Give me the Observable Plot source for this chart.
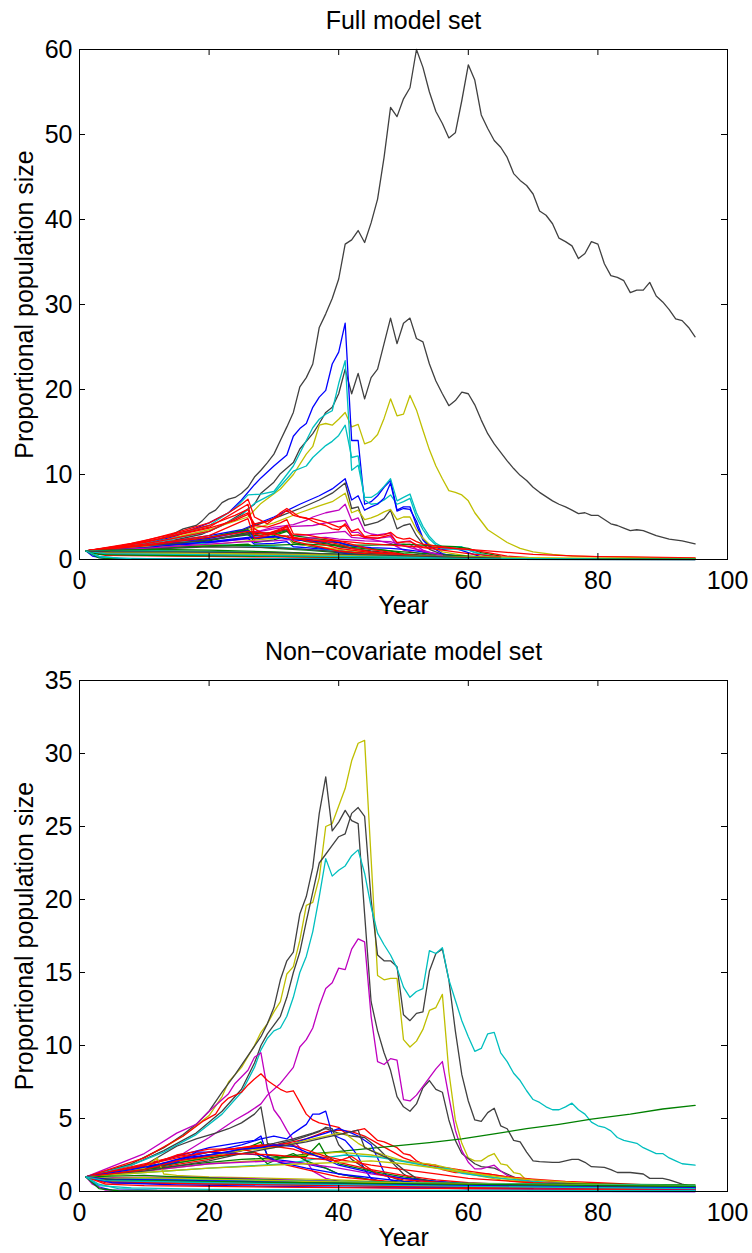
<!DOCTYPE html>
<html><head><meta charset="utf-8">
<script src="https://cdn.jsdelivr.net/npm/d3@7"></script>
<script src="https://cdn.jsdelivr.net/npm/@observablehq/plot@0.6"></script>
<style>html,body{margin:0;padding:0;background:#fff;} svg{display:block;}</style>
</head><body><div id="chart"></div>
<script>
// ---------- labels & ticks ----------
const fullTitle = "Full model set";
const nonCovTitle = "Non\u2212covariate model set";
const xLabel = "Year";
const yLabel = "Proportional population size";
const xTicks = [0, 20, 40, 60, 80, 100];
const fullYTicks = [0, 10, 20, 30, 40, 50, 60];
const nonCovYTicks = [0, 5, 10, 15, 20, 25, 30, 35];

// MATLAB default colour order: b g r c m y k
const colorCodes = {b:"#0000ff", g:"#008000", r:"#ff0000", c:"#00bfbf", m:"#bf00bf", y:"#bfbf00", k:"#404040"};

// ---------- Full model set: trajectories as [year, value, year, value, ...] ----------
const fullColors = ["k","k","y","b","c","c","b","k","y","m","m","m","g","g","g","g","b","b","c","k","y","b","k","g","m","r","r","r","r","r","r","r"];
const fullSeries = [
 [1,1,6,1.3,10,1.8,14,2.8,16,3.6,18,4,19,4.6,20,5.4,21,5.8,22,6.7,23,7.1,24,7.3,25,7.8,26,8.5,27,9.7,28,10.5,29,11.4,30,12.4,31,14,32,15.6,33,17.3,34,20.3,35,21.4,36,23,37,27.3,38,28.9,39,30.7,40,33,41,37.1,42,37.6,43,38.7,44,37.3,45,39.6,46,42.4,47,47.3,48,53.2,49,52.1,50,54.2,51,55.5,52,60,53,57.9,54,55,55,52.7,56,51.3,57,49.6,58,50.2,59,54,60,58.2,61,56.4,62,52.3,63,50.7,64,49.3,65,48.5,66,47.3,67,45.4,68,44.6,69,44,70,43,71,41,72,40.5,73,39.5,74,37.8,75,37.4,76,36.9,77,35.4,78,36,79,37.4,80,37.1,81,34.8,82,33.4,83,33.2,84,32.8,85,31.4,86,31.7,87,31.7,88,32.6,89,31,90,30.3,91,29.4,92,28.3,93,28.1,94,27.3,95,26.2],
 [1,1,6,1.1,13,2,19,3,22,4,25,5.4,27,6.5,28,7.8,30,9.1,31,10.1,33,11.4,34,13,36,14.8,37,16,38,17.3,39,17.9,40,19.5,41,22.4,42,19.5,43,21.9,44,18.9,45,21.4,46,22.4,47,25.4,48,28.4,49,25.4,50,27.8,51,28.4,52,26,53,25.6,54,23,55,21,56,19.5,57,18.1,58,18.7,59,19.7,60,19.5,61,18.2,62,16.4,63,14.8,64,13.6,65,12.6,66,11.6,67,10.7,68,9.9,69,9.3,70,8.5,71,7.9,72,7.4,73,6.9,74,6.5,75,6.2,76,5.8,77,5.4,78,5.5,79,5.2,80,5.2,81,4.7,82,4.2,83,4,84,3.7,85,3.4,86,3.5,87,3.4,88,3.1,89,2.8,91,2.4,93,2.2,95,1.85],
 [1,1,10,1.8,20,3.5,26,5,28,6.6,31,8.3,33,10,35,12.4,36,13.3,37,15.8,38,16,39,15.8,40,16.5,41,17.3,42,15.6,43,15.9,44,13.6,45,13.9,46,14.7,47,16.6,48,18.9,49,16.9,50,17.1,51,19.3,52,17.6,53,15.2,54,12.9,55,11,56,9.5,57,8.1,58,7.9,59,7.6,60,6.9,61,5.5,62,4.5,63,3.5,64,3,66,2,68,1.3,70,0.9,73,0.6,76,0.4,85,0.25,95,0.15],
 [1,1,10,1.8,15,2.8,20,4.3,23,5.5,25,7,27,8.8,28,9.6,30,11,32,12.3,33,14.5,34,15.4,35,16,36,17.9,37,19.1,38,19.9,39,23,40,24.4,41,27.8,42,14,43,14,44,6.5,45,6.8,46,7.5,47,8.5,48,9.3,49,5.8,50,6.2,51,6.2,52,4,53,2.3,54,1.5,56,1.2,58,1.3,60,0.8,62,0.3,65,0.1],
 [1,1,10,1.9,20,4,24,6,26,7.6,28,7.7,30,8,31,9,33,11,35,14,36,15.5,37,16.5,38,17.1,39,17.5,40,20.7,41,23.4,42,10.5,43,11.1,44,7.3,45,7.3,46,7.8,47,8.6,48,9.5,49,6.9,50,7.3,51,7.7,52,5.5,53,3.9,54,2.7,55,1.9,56,1.5,59,1.5,61,0.8,64,0.3,70,0.1],
 [1,1,10,1.7,20,3.3,25,5.2,27,6.6,30,7.8,32,9.5,33,10.4,35,11,36,12,38,13.4,39,13.9,40,14.6,41,15.8,42,12,43,12.2,44,7,45,6.5,46,6.6,47,7,48,7.6,49,6.5,50,6.8,51,7.2,52,5,53,3.5,54,2.4,55,1.7,56,1.3,58,1.2,60,1.1,62,0.6,65,0.2],
 [1,1,10,1.6,20,2.8,25,3.5,30,5,34,6.5,37,7.5,39,8.3,41,9.5,42,7,43,7.5,44,5.8,45,6.2,46,6.5,47,7.2,48,9,49,5.7,50,6,51,5.9,52,4.5,53,2.5,54,1.6,56,0.7,58,0.3,62,0.1],
 [1,1,10,1.5,20,2.6,25,3.4,30,4.8,34,6,37,7,39,7.8,41,9,42,6,43,6.2,44,4,45,4.2,46,4.4,47,4.8,48,5.8,49,3.6,50,4,51,4.2,52,2.8,53,1.8,54,1.2,56,0.6,60,0.3,65,0.1],
 [1,1,10,1.5,20,2.5,25,3.2,30,4.3,34,5.5,37,6.3,39,6.8,41,7.8,42,5.5,43,5.8,44,4.7,45,4.9,46,5.2,47,5.6,48,5.9,49,4.7,50,5,51,5,52,3.5,53,2.5,54,1.8,56,0.9,60,0.4,65,0.15],
 [1,1,10,1.4,20,2.3,25,3,28,3.4,30,3.8,33,4.1,35,4.6,36,5,38,5.5,40,5.8,41,6.5,42,4.6,43,4.9,44,3.3,45,3,46,2.9,47,3,48,3.1,49,1.9,50,2.1,51,2.2,52,1.6,53,1.1,55,0.6,58,0.3,62,0.1],
 [1,1,10,1.5,20,2.3,25,2.9,30,3.6,33,3.9,36,4,38,4.3,40,4.5,41,4.6,42,3.2,43,3.2,44,2.6,46,2.5,48,2.7,49,1.6,51,1.8,52,1.2,54,0.6,56,0.2],
 [1,1,10,1.3,20,2,30,2.7,35,2.9,38,3.1,41,3.3,42,2.6,45,2.4,48,1.9,50,1.1,53,0.6,56,0.3],
 [1,1,10,1.6,20,2.6,26,3.5,27,2.8,30,3,32,3.4,33,2.5,35,2.1,40,1.7,45,1.7,50,1.8,55,1.6,58,1.5,60,1.3,62,0.8,65,0.4],
 [1,1,10,1.4,20,2.2,26,3.2,27,2,30,2.3,32,2.8,33,2,36,1.5,40,1,45,0.7,50,0.5,55,0.3],
 [1,1,5,1.2,10,1.3,15,1.5,20,1.6,26,1.8,27,1.5,30,1.3,35,1.1,40,0.8,50,0.4,60,0.2],
 [1,1,10,1.5,20,2.3,26,2.9,27,2.4,30,2.8,32,3.3,33,2.8,35,2.6,38,2.3,40,2,42,1.6,45,1.3,48,1,50,0.7,55,0.4,60,0.2],
 [1,1,10,1.6,20,2.5,26,3.4,27,2.5,30,2.6,32,2.8,33,1.8,36,1.6,38,1.2,40,0.8,42,0.6,45,0.4,50,0.2],
 [1,1,10,1.4,20,2,26,2.5,27,1.8,30,1.9,32,2.1,33,1.5,35,1.4,40,1,45,0.6,50,0.35,55,0.2],
 [1,1,10,1.7,13,2.3,15,2.2,20,1.8,25,1.6,30,1.5,35,1.2,40,1,45,0.6,50,0.4,55,0.2],
 [1,1,10,1.5,20,2.3,26,3,30,3.2,32,3.5,33,2.4,35,2.2,38,2,40,1.5,45,1,50,0.6,55,0.3],
 [1,1,10,1.5,20,1.7,26,2.2,30,2.5,32,2.8,33,1.8,36,1.6,40,1.2,45,0.8,50,0.5,55,0.3],
 [1,1,10,1.4,20,2.1,26,2.6,30,2.7,33,2.3,36,2.2,40,2,42,1.6,45,1.4,48,1.3,50,1.2,53,0.9,56,0.6,60,0.3],
 [1,1,10,1.2,20,1.5,30,1.4,35,1.2,40,0.9,45,0.7,50,0.5,55,0.4,60,0.3,65,0.15],
 [1,1,10,1.3,20,1.6,30,1.7,35,1.8,40,1.6,45,1.2,50,0.9,55,0.6,60,0.4,65,0.2],
 [1,1,10,1.3,20,1.8,26,2.1,30,2.2,35,2.5,38,2.6,40,2.4,44,2.2,48,2.1,50,1.6,53,1,56,0.5],
 [1,1,5,1.4,10,2.2,15,3.2,20,4.3,23,5.5,25,6.5,26,7.1,27,5,28,4.6,29,4.2,30,4.8,31,5.5,32,6,33,5.5,34,5,35,4.9,36,4.5,37,4.2,38,4,39,3.6,40,3.5,41,4.2,42,3.3,43,3.6,44,2.7,45,2.8,46,2.8,47,2.9,48,3.2,49,2.6,50,2.4,51,2.5,52,2.1,53,1.8,55,1.6,58,1.3,60,1.2,65,0.9,70,0.6,75,0.45,80,0.35,85,0.3,90,0.25,95,0.2],
 [1,1,10,2,20,3.8,26,6.5,27,3,28,2.8,30,3.3,32,3.6,33,2.6,35,2.2,38,1.7,40,1.3,45,0.8,50,0.5,55,0.3,60,0.2],
 [1,1,10,1.8,20,3.3,26,5.5,27,4.2,29,4.5,31,5.2,32,5.8,33,5.2,35,4.8,36,4.8,38,4.4,40,3.8,41,4,42,2.8,43,2.9,44,2.6,46,2.5,48,2.9,49,2,51,2.1,53,1.4,56,1.1,60,0.7,65,0.3,70,0.15],
 [1,1,10,1.7,20,2.8,26,4.8,27,2.5,29,2.8,31,3.4,32,3.9,33,2.2,35,1.8,40,1,45,0.6,50,0.4,55,0.25],
 [1,1,8,1.9,14,2.9,20,4,24,5.2,26,5.9,27,3.6,28,3.2,29,3,31,3.6,32,4,33,2.6,35,2.4,38,2.1,40,1.8,42,1.3,45,0.9,50,0.5,55,0.3,60,0.15],
 [1,1,8,1.8,14,2.7,20,3.7,24,4.6,26,5.3,27,4,29,3.8,31,4.3,32,4.7,33,3,35,2.9,37,2.6,40,2.2,45,1.2,50,0.6,55,0.3],
 [1,1,10,1.6,20,2.6,26,3.3,30,3,33,2.5,36,2.3,40,2.2,44,1.9,48,1.7,52,1.5,56,1.4,60,1.2,63,0.8,66,0.4,70,0.2]
];
const fullLowColors = ["b","g","r","c","m","y","k","b","g","r","c","y","g","c","k","g","c"];
const fullLowSeries = [
 [1,1,3,0.8,10,0.9,20,0.8,30,0.6,40,0.4,50,0.25,60,0.1,70,0.05],
 [1,1,5,1.1,12,1.2,20,1.1,30,0.9,40,0.6,50,0.35,60,0.15,70,0.05],
 [1,1,4,0.7,12,0.6,25,0.5,40,0.35,55,0.2,65,0.1,80,0.05],
 [1,1,3,0.4,6,0.15,15,0.05,40,0.02],
 [1,1,5,0.9,15,0.85,25,0.75,35,0.6,45,0.4,55,0.25,65,0.1],
 [1,1,6,0.8,15,0.7,25,0.6,40,0.45,55,0.3,70,0.15,95,0.05],
 [1,1,4,0.6,12,0.5,25,0.4,40,0.3,55,0.2,70,0.1],
 [1,1,2,0.4,4,0.1,95,0],
 [1,1,5,1,10,1.05,20,0.95,30,0.8,40,0.6,50,0.4,60,0.2,70,0.1,95,0.05],
 [1,1,4,0.5,15,0.4,30,0.3,50,0.2,70,0.1,95,0.05],
 [1,1,5,0.95,12,1,20,0.9,30,0.75,42,0.55,50,0.35,60,0.15,70,0.05],
 [1,1,5,0.85,15,0.8,30,0.65,45,0.5,60,0.3,75,0.15,95,0.1],
 [1,1,3,0.6,10,0.5,25,0.4,45,0.25,65,0.1,95,0.05],
 [1,1,4,0.7,15,0.6,30,0.45,45,0.3,60,0.15,80,0.05],
 [1,1,5,0.9,15,0.9,30,0.8,45,0.55,55,0.35,65,0.15],
 [1,1,3,0.2,6,0.05,95,0],
 [1,1,3,0.3,8,0.1,95,0.01]
];

// ---------- Non-covariate model set ----------
const nonCovColors = ["y","k","k","c","m","m","r","r","g","b","b","b","k","k","y","y","c","g","g","r","r","b","m","y","r","b","k","y","r"];
const nonCovSeries = [
 [1,1,8,1.9,13,3,16,3.8,18,4.5,20,5.2,22,6.5,23,7.5,25,8.5,27,10,28,10.9,29,11.5,30,12.3,31,13,32,14.9,33,15.4,34,17.2,35,19.6,36,19.8,37,21.5,38,25,39,25.2,40,26.4,41,27.6,42,29.5,43,30.7,44,30.9,45,22.8,46,14.8,47,14.5,48,14.6,49,14.6,50,10.4,51,9.9,52,10.3,53,11.1,54,12.4,55,12.6,56,13.5,57,8.2,58,4.9,59,3.3,60,2.3,61,2.1,62,2.1,63,2.4,64,2.6,65,1.9,66,1.8,67,1.3,68,1.2,69,0.75,72,0.5,80,0.35,95,0.25],
 [1,1,8,1.9,13,3,16,3.9,18,4.6,20,5.5,22,6.8,24,8,26,9.3,28,10.6,29,11.5,30,12.6,31,14.5,32,15.8,33,16.4,34,19,35,20.2,36,22.2,37,25.9,38,28.4,39,24.7,40,25.3,41,26.1,42,25.4,43,25.2,44,19,45,13,46,11,47,9.5,48,8.3,49,6.5,50,5.8,51,5.5,52,6,53,7.1,54,7.6,55,7,56,6.8,57,4.9,58,3.5,59,2.6,61,1.9,62,1.7,64,1.6,66,1.2,68,0.8,72,0.5,80,0.35,95,0.3],
 [1,1,8,1.8,13,2.8,18,4,22,5.5,25,7,27,8.8,28,10,29,10.8,30,11.4,31,12,32,13.3,33,15,34,16.4,35,18.5,36,20.5,37,22.5,38,23.1,39,23.7,40,24.3,41,24.5,42,25.9,43,26.3,44,25.7,45,20,46,16.2,47,15.8,48,15.8,49,15.4,50,12.1,51,11.7,52,12.2,53,12.3,54,15.1,55,16.3,56,16.6,57,14.5,58,11,59,8,60,6.2,61,4.9,62,4.8,63,5.4,64,5.7,65,4.5,66,4.3,67,3.5,68,3.4,69,2.7,70,2.1,71,2.05,73,2,74,2,76,2.2,77,2.2,78,2,79,1.7,81,1.65,82,1.5,83,1.3,85,1.3,87,1.2,88,0.9,90,0.9,91,0.8,93,0.5,95,0.3],
 [1,1,8,1.8,13,2.7,18,3.9,22,5.3,25,6.8,27,8.5,28,9.7,29,10.5,30,11,31,11.2,32,12,33,13.3,34,15,35,16.1,36,17.8,37,20.2,38,22.8,39,21.6,40,22,41,22.3,42,23,43,23.4,44,21.8,45,19.5,46,17.7,47,16.9,48,16.2,49,15.3,50,14,51,13.3,52,13.7,53,13.9,54,16.5,55,16.3,56,16.7,57,14.5,58,13.1,59,11.7,60,10.6,61,9.6,62,9.8,63,10.8,64,10.9,65,9.5,66,8.9,67,8.1,68,7.6,69,6.9,70,6.3,71,6.1,72,5.8,73,5.6,74,5.6,75,5.8,76,6.05,77,5.6,78,5.3,79,4.75,80,4.5,81,4.4,82,4.15,83,3.7,84,3.5,85,3.4,86,3.3,87,3,88,2.8,89,2.6,90,2.6,91,2.3,92,2.1,93,1.9,95,1.8],
 [1,1,10,1.7,16,2.6,20,3.7,22,4.3,24,4.9,26,5.4,28,6,29,6.6,31,7.4,33,8.5,34,9.9,35,10.4,36,11.2,37,12.7,38,13.9,39,14.3,40,15.3,41,15.2,42,16.6,43,17.3,44,17.1,45,12,46,8.9,47,8.7,48,9.1,49,9,50,6.3,51,6.2,52,6.6,53,7.2,54,7.8,55,8.4,56,8.9,57,6.5,58,4.2,59,2.8,60,2,61,1.55,62,1.55,64,1.8,65,1.4,66,1.1,68,0.8,72,0.5,80,0.3,95,0.2],
 [1,1,10,2.6,15,4,18,4.6,20,5.5,23,6.7,24,7.4,26,8.3,27,9.2,28,9.5,29,7,30,5.6,31,5,32,4.2,33,3.5,34,3,35,2.1,36,1.4,38,0.9,42,0.5,50,0.3,60,0.2],
 [1,1,10,2.3,16,3.8,19,4.8,21,5.3,22,6,23,6.4,25,6.8,26,7.3,27,7.7,28,8.06,29,7.6,30,7.3,31,7,32,6.8,33,6.9,34,6.1,35,5.3,36,4.9,37,4.7,38,4.6,39,4.5,40,4.4,41,4,42,4.1,43,4.2,44,4.3,45,3.9,46,3.5,47,3.4,49,3,50,2.6,51,2.5,52,2.1,53,1.9,55,1.8,56,1.5,58,1.3,59,1.3,61,1.2,63,1.2,66,1,70,0.85,75,0.7,80,0.6,85,0.5,90,0.4,95,0.3],
 [1,1,10,1.5,20,2.2,25,2.8,30,3.1,35,3.6,38,4.1,40,4.2,42,4.1,44,3.8,46,3.3,48,2.8,50,2.3,52,2,55,1.7,57,1.6,60,1.4,63,1.2,66,1,70,0.8,75,0.6,80,0.5,85,0.4,90,0.35,95,0.3],
 [1,1,5,1.3,10,1.7,15,2.1,20,2.5,25,2.8,28,3.4,29,2.5,31,2.35,35,2.55,39,2.7,46,3,54,3.35,59,3.6,64,3.95,69,4.3,74,4.6,79,4.95,85,5.3,90,5.65,95,5.9],
 [1,1,10,1.6,15,2.2,20,2.7,25,3.2,28,3.6,30,3.8,32,3.6,33,4,35,4.6,36,5.3,37,5.3,38,5.5,39,3.9,40,3.7,41,3.5,42,3,43,2.4,44,1.5,45,0.9,47,0.6,50,0.4,60,0.2],
 [1,1,10,1.8,15,2.4,20,3,24,3.3,27,3.5,28,3.8,29,2.4,30,2.2,32,2.1,35,1.9,38,1.6,40,1.2,45,0.8,50,0.5,60,0.3],
 [1,1,10,1.5,16,2.3,20,2.5,25,2.8,30,3.2,33,3.3,35,3.6,38,4,40,4.3,42,4,43,3.8,45,3.2,46,2.3,47,1.3,48,0.8,50,0.5,60,0.25],
 [1,1,10,1.8,15,3.1,18,3.6,21,4,23,4.3,25,4.7,27,5.3,28,5.8,29,3.3,30,3.1,31,3.3,33,3.5,35,3.8,37,4.1,38,4.4,39,4.3,40,3.2,42,2.2,44,1.6,46,1.2,48,1,50,0.7,55,0.45,60,0.3,70,0.2],
 [1,1,10,1.5,20,2.4,25,2.9,30,3.3,33,3.6,36,4,38,4.3,40,4,42,3.8,44,3.7,46,3,48,2.1,50,1.2,52,0.7,55,0.45],
 [1,1,10,1.6,20,2.4,25,2.8,30,3,33,3.3,36,3.6,38,3.8,40,4,41,3.95,43,3.3,45,2.8,47,2.5,50,2.1,52,2,55,1.8,58,1.5,60,1.3,65,0.9,70,0.6,75,0.45,80,0.35],
 [1,1,10,1.4,20,1.9,30,2.2,35,2.5,40,2.7,45,2.5,50,2.1,55,1.6,60,1.2,65,0.8,70,0.55,80,0.35,95,0.25],
 [1,1,10,1.3,20,1.6,32,1.9,36,2.2,41,2.5,46,2.35,52,1.9,54,1.7,57,1.55,59,1.25,64,0.95,70,0.7,80,0.45,95,0.3],
 [1,1,10,1.5,20,2,25,2.2,30,2.3,35,2.4,37,3.3,38,2.5,40,1.9,45,1.4,50,1,55,0.7,60,0.5,70,0.35,95,0.2],
 [1,1,10,1.6,20,2.3,27,2.7,29,1.9,31,2.3,33,2.6,35,2.1,38,1.6,40,1.2,45,0.8,50,0.5],
 [1,1,10,1.9,15,2.4,20,2.7,25,3,28,3.2,30,3.1,33,2.9,35,2.6,38,2.3,40,2,45,1.5,50,1.1,55,0.8,60,0.6,70,0.4,80,0.3,95,0.2],
 [1,1,10,1.7,15,2.5,20,2.9,25,2.9,27,2.7,29,2.3,32,1.8,35,1.5,40,1,50,0.6,60,0.35],
 [1,1,8,1.5,15,2,18,2.7,20,2.7,25,2.6,28,2.5,31,2,35,1.6,40,1.2,50,0.7,60,0.4],
 [1,1,10,1.4,20,1.9,30,2.1,35,1.9,40,1.6,45,1.2,50,0.9,55,0.6,60,0.4,70,0.25],
 [1,1,5,1.3,10,1.6,12,2.3,13,1.2,15,1.1,20,1,30,0.9,40,0.8,50,0.6,60,0.5,70,0.4,80,0.35,95,0.3],
 [1,1,8,1.6,15,2.3,20,2.7,25,3,28,3.1,30,3.2,32,3.3,34,3,36,2.7,38,2.4,40,2.2,45,1.8,50,1.5,55,1.2,60,0.9,70,0.6,95,0.3],
 [1,1,8,1.5,15,2.1,20,2.5,25,2.9,28,3,30,3.2,33,3.1,35,2.7,38,2.2,40,1.8,45,1.3,50,0.9,60,0.5,80,0.3],
 [1,1,10,1.4,20,2.1,25,2.6,30,3,35,3.4,38,3.7,40,3.9,43,4.2,44,3,46,2.6,48,2.2,50,1.5,52,0.9,55,0.6],
 [1,1,10,1.3,20,1.6,30,1.8,35,1.9,40,2,45,2.1,50,1.9,55,1.6,60,1.3,65,1,70,0.8,80,0.5,95,0.35],
 [1,1,10,1.5,15,2.1,20,2.4,25,2.6,30,2.5,35,2.3,40,2.1,42,2.4,44,1.8,46,1.2,50,0.8,60,0.5]
];
const nonCovLowColors = ["b","g","r","c","m","y","k","b","g","r","c","m","y","k","b","r","g","b","r","c","g","c"];
const nonCovLowSeries = [
 [1,1,3,0.9,10,0.85,20,0.8,30,0.7,40,0.6,55,0.5,70,0.4,95,0.3],
 [1,1,4,0.9,12,0.95,20,0.9,30,0.8,45,0.65,60,0.55,80,0.5,95,0.45],
 [1,1,5,0.8,15,0.7,30,0.55,50,0.4,70,0.3,95,0.2],
 [1,1,3,0.5,6,0.2,12,0.1,30,0.05,95,0.02],
 [1,1,5,0.95,15,1,25,0.9,35,0.75,50,0.55,65,0.4,80,0.3,95,0.25],
 [1,1,6,0.85,15,0.75,25,0.7,40,0.6,60,0.5,80,0.45,95,0.4],
 [1,1,4,0.7,10,0.6,20,0.5,40,0.4,60,0.3,95,0.2],
 [1,1,3,0.3,5,0.1,10,0.05,95,0],
 [1,1,5,1.05,10,1.1,15,1,25,0.85,35,0.7,50,0.5,65,0.35,80,0.25,95,0.2],
 [1,1,4,0.6,10,0.55,25,0.5,45,0.4,65,0.3,95,0.15],
 [1,1,5,0.9,15,0.85,30,0.75,50,0.6,70,0.5,95,0.4],
 [1,1,2,0.5,4,0.1,95,0],
 [1,1,5,0.9,10,0.95,20,0.85,35,0.7,55,0.55,75,0.45,95,0.35],
 [1,1,6,0.8,15,0.7,30,0.6,50,0.45,75,0.35,95,0.3],
 [1,1,4,0.85,12,0.8,25,0.7,40,0.55,60,0.4,80,0.3,95,0.25],
 [1,1,5,0.7,15,0.6,30,0.5,50,0.35,70,0.25,95,0.15],
 [1,1,3,0.8,10,0.75,25,0.65,45,0.55,70,0.45,95,0.35],
 [1,1,5,0.6,15,0.45,30,0.35,60,0.2,95,0.1],
 [1,1,4,0.5,10,0.4,30,0.3,60,0.2,95,0.1],
 [1,1,4,0.75,15,0.65,35,0.5,60,0.35,95,0.2],
 [1,1,3,0.2,6,0.05,95,0.02],
 [1,1,3,0.4,8,0.25,20,0.15,50,0.08,95,0.05]
];

// ---------- build rows ----------
function toRows(colorList, seriesList, start) {
  const rows = [];
  seriesList.forEach((s, i) => {
    for (let j = 0; j < s.length; j += 2) {
      rows.push({id: start + i, year: s[j], value: s[j + 1], color: colorCodes[colorList[i]]});
    }
  });
  return rows;
}

const FONT = "'Liberation Sans', Arial, Helvetica, sans-serif";
const W = 752, ML = 79, MR = 25;

function panel({rows, yMax, yTicks, title, height, marginTop, marginBottom}) {
  const fh = height - marginTop - marginBottom;
  const fw = W - ML - MR;
  return Plot.plot({
    width: W, height, marginLeft: ML, marginRight: MR, marginTop, marginBottom,
    x: {domain: [0, 100]},
    y: {domain: [0, yMax]},
    color: {type: "identity"},
    style: {fontFamily: FONT, fontSize: "25px", background: "white", color: "black", overflow: "visible"},
    marks: [
      Plot.line(rows, {x: "year", y: "value", z: "id", stroke: "color", strokeWidth: 1.3, strokeLinejoin: "round"}),
      Plot.tickX(xTicks, {x: d => d, insetTop: fh - 6, stroke: "black"}),
      Plot.tickX(xTicks, {x: d => d, insetBottom: fh - 6, stroke: "black"}),
      Plot.tickY(yTicks, {y: d => d, insetRight: fw - 6, stroke: "black"}),
      Plot.tickY(yTicks, {y: d => d, insetLeft: fw - 6, stroke: "black"}),
      Plot.frame({stroke: "black", strokeWidth: 1}),
      Plot.axisX({ticks: xTicks, tickSize: 0, tickPadding: 12, label: null, fontSize: 25}),
      Plot.axisY({ticks: yTicks, tickSize: 0, tickPadding: 7, label: null, fontSize: 25}),
      Plot.text([xLabel], {text: d => d, frameAnchor: "bottom", dy: 46, lineAnchor: "middle", textAnchor: "middle", fontSize: 25, fill: "black"}),
      Plot.text([yLabel], {text: d => d, frameAnchor: "left", dx: -55, rotate: -90, lineAnchor: "middle", textAnchor: "middle", fontSize: 25, fill: "black"}),
      Plot.text([title], {text: d => d, frameAnchor: "top", dy: -29, lineAnchor: "middle", textAnchor: "middle", fontSize: 25, fill: "black"})
    ]
  });
}

const fullRows = toRows(fullColors, fullSeries, 0).concat(toRows(fullLowColors, fullLowSeries, 1000));
const nonCovRows = toRows(nonCovColors, nonCovSeries, 0).concat(toRows(nonCovLowColors, nonCovLowSeries, 1000));

const chart = document.getElementById("chart");
chart.appendChild(panel({rows: fullRows, yMax: 60, yTicks: fullYTicks, title: fullTitle, height: 626, marginTop: 49, marginBottom: 67}));
chart.appendChild(panel({rows: nonCovRows, yMax: 35, yTicks: nonCovYTicks, title: nonCovTitle, height: 627, marginTop: 54, marginBottom: 62}));
</script>
</body></html>
